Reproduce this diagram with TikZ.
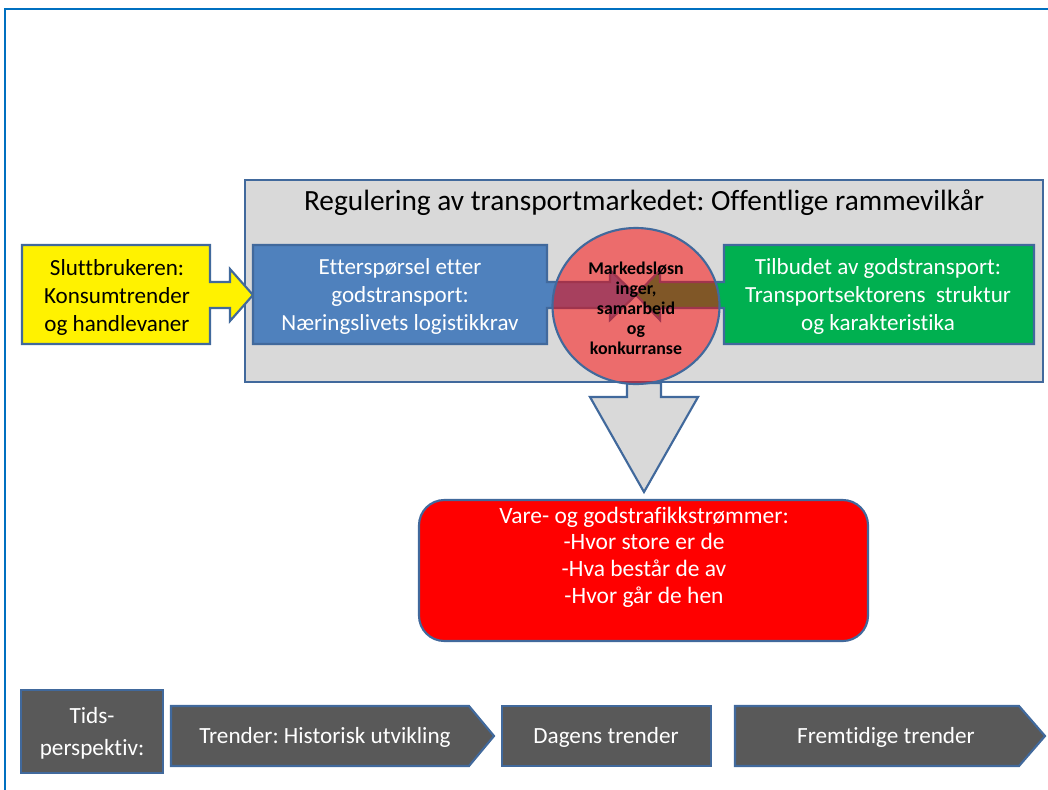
\documentclass[tikz,border=0pt]{standalone}
\usepackage{fontspec}
\setmainfont[Ligatures=NoCommon]{Carlito}
\frenchspacing

\definecolor{frameblue}{HTML}{0070C0}
\definecolor{edgeblue}{HTML}{41699C}
\definecolor{boxgray}{HTML}{D9D9D9}
\definecolor{demandblue}{HTML}{4F81BD}
\definecolor{supplygreen}{HTML}{00B050}
\definecolor{trendgray}{HTML}{595959}

\tikzset{every picture/.style={line width=0.75pt}}
\tikzset{
  boxline/.style={draw=edgeblue, line width=1.6pt, line join=miter},
  whitetext/.style={text=white, align=center},
  blacktext/.style={text=black, align=center},
  bigfont/.style={font=\fontsize{17.3}{21}\selectfont},
  trendfont/.style={font=\fontsize{17.4}{24}\selectfont}
}

\begin{document}
\begin{tikzpicture}[x=0.75pt,y=0.75pt,yscale=-1,xscale=1]
	\useasboundingbox (0,0) rectangle (1048,789);

	%Page frame
	\draw [frameblue, line width=2.2pt] (5,795) -- (5,9) -- (1055,9) ;

	%Shape: Rectangle [id:regulering]
	\draw [boxline, fill=boxgray] (245,180) rectangle (1043,382) ;
	%Shape: Right Arrow Callout [id:sluttbruker]
	\draw [boxline, fill=yellow] (22,245) -- (210,245) -- (210,282) -- (230,282) -- (230,269) -- (253,295) -- (230,321) -- (230,308) -- (210,308) -- (210,344) -- (22,344) -- cycle ;
	%Shape: Right Arrow Callout [id:etterspørsel]
	\draw [boxline, fill=demandblue] (253,245) -- (547,245) -- (547,282) -- (610,282) -- (610,270) -- (636,295) -- (610,320) -- (610,308) -- (547,308) -- (547,344) -- (253,344) -- cycle ;
	%Shape: Left Arrow Callout [id:tilbud]
	\draw [boxline, fill=supplygreen] (1034,245) -- (724,245) -- (724,282) -- (660,282) -- (660,270) -- (636,295) -- (660,320) -- (660,308) -- (724,308) -- (724,344) -- (1034,344) -- cycle ;
	%Shape: Down Arrow [id:nedpil]
	\draw [boxline, fill=boxgray] (627,383) -- (627,397) -- (590,397) -- (644,492) -- (698,397) -- (661,397) -- (661,383) -- cycle ;
	%Shape: Ellipse [id:marked]
	\draw [boxline, fill=red, fill opacity=0.5] (636,306) ellipse (83.5 and 78) ;
	%Shape: Rounded Rect [id:strømmer]
	\draw [boxline, fill=red, rounded corners=19pt] (419,500) rectangle (868,641) ;

	%Shape: Rectangle [id:tids]
	\draw [boxline, fill=trendgray] (21,690) rectangle (163,773) ;
	%Shape: Pentagon [id:historisk]
	\draw [boxline, fill=trendgray] (171,706) -- (469,706) -- (494,736) -- (469,766) -- (171,766) -- cycle ;
	%Shape: Rectangle [id:dagens]
	\draw [boxline, fill=trendgray] (502,706) rectangle (711,766) ;
	%Shape: Pentagon [id:fremtidige]
	\draw [boxline, fill=trendgray] (735,706) -- (1019,706) -- (1045,736) -- (1019,766) -- (735,766) -- cycle ;

	% Text Node
	\draw (644,203) node (title) [blacktext, font=\fontsize{22}{26}\selectfont] {Regulering av transportmarkedet: Offentlige rammevilkår};
	% Text Node
	\draw (117,297) node (enduser) [blacktext, bigfont] {Sluttbrukeren:\\Konsumtrender\\og handlevaner};
	% Text Node
	\draw (400,296) node (demand) [whitetext, bigfont] {Etterspørsel etter\\godstransport:\\Næringslivets logistikkrav};
	% Text Node
	\draw (878,296) node (supply) [whitetext, bigfont] {Tilbudet av godstransport:\\Transportsektorens~ struktur\\og karakteristika};
	% Text Node
	\draw (636,308) node (market) [blacktext, font=\fontsize{13.4}{15}\selectfont\bfseries] {Markedsløsn\\inger,\\samarbeid\\og\\konkurranse};
	% Text Node
	\draw (644,557) node (flows) [whitetext, font=\fontsize{17.6}{20}\selectfont] {Vare- og godstrafikkstrømmer:\\-Hvor store er de\\-Hva består de av\\-Hvor går de hen};

	% Text Node
	\draw (92,733) node (tids) [whitetext, trendfont] {Tids-\\perspektiv:};
	% Text Node
	\draw (325,737) node (past) [whitetext, trendfont] {Trender: Historisk utvikling};
	% Text Node
	\draw (606,737) node (today) [whitetext, trendfont] {Dagens trender};
	% Text Node
	\draw (886,737) node (future) [whitetext, trendfont] {Fremtidige trender};

\end{tikzpicture}
\end{document}
